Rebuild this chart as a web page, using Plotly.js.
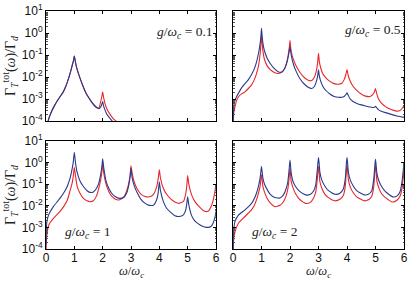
<!DOCTYPE html>
<html>
<head>
<meta charset="utf-8">
<script src="https://cdn.plot.ly/plotly-3.0.1.min.js"></script>
<style>html,body{margin:0;padding:0;background:#fff;}#plot{width:415px;height:282px;}</style>
</head>
<body>
<div id="plot"></div>
<script>
// ---- data (ω/ω_c, Γ_T^tot/Γ_d) ----
// panel g/ω_c = 0.1
const xA = [0.04,0.1,0.2,0.3,0.4,0.5,0.6,0.7,0.8,0.88,0.94,0.97,1.0,1.03,1.06,1.12,1.2,1.3,1.4,1.5,1.6,1.7,1.8,1.87,1.93,1.97,2.0,2.03,2.08,2.15,2.25,2.35,2.45,2.55];
const blueA = [6.3e-5,1.3e-4,2.8e-4,5.0e-4,8.3e-4,1.3e-3,2.0e-3,3.8e-3,8.9e-3,0.020,0.040,0.056,0.089,0.056,0.035,0.018,8.9e-3,4.0e-3,2.0e-3,1.2e-3,7.6e-4,5.2e-4,4.0e-4,3.6e-4,4.4e-4,5.8e-4,7.6e-4,5.0e-4,3.2e-4,2.0e-4,1.35e-4,9.5e-5,7.1e-5,5.0e-5];
const redA  = [6.3e-5,1.3e-4,2.8e-4,5.0e-4,8.3e-4,1.3e-3,2.0e-3,3.8e-3,8.9e-3,0.020,0.040,0.056,0.089,0.056,0.035,0.018,8.9e-3,4.0e-3,2.0e-3,1.2e-3,7.6e-4,5.2e-4,4.0e-4,4.0e-4,7.6e-4,1.3e-3,2.1e-3,1.26e-3,6.3e-4,3.5e-4,2.1e-4,1.4e-4,1.05e-4,7.9e-5];

// panel g/ω_c = 0.5
const xB = [0.0,0.03,0.07,0.13,0.2,0.3,0.42,0.54,0.65,0.75,0.83,0.9,0.95,0.98,1.0,1.02,1.05,1.1,1.2,1.3,1.45,1.6,1.72,1.82,1.9,1.95,1.98,2.0,2.02,2.05,2.12,2.2,2.35,2.5,2.64,2.76,2.86,2.92,2.97,3.0,3.03,3.08,3.15,3.25,3.4,3.55,3.7,3.82,3.9,3.96,4.0,4.04,4.1,4.2,4.35,4.5,4.65,4.8,4.9,4.96,5.0,5.04,5.1,5.2,5.35,5.55,5.75,5.86,5.95,6.0];
const blueB = [5.0e-5,5.0e-4,8.9e-4,1.3e-3,1.9e-3,3.2e-3,5.0e-3,7.6e-3,0.013,0.024,0.050,0.13,0.32,0.71,1.62,0.79,0.35,0.16,0.071,0.042,0.024,0.017,0.017,0.025,0.050,0.10,0.17,0.24,0.16,0.089,0.038,0.020,8.3e-3,4.8e-3,3.4e-3,3.0e-3,3.8e-3,6.0e-3,0.011,0.021,0.011,6.3e-3,3.8e-3,2.5e-3,1.7e-3,1.3e-3,1.2e-3,1.2e-3,1.3e-3,1.6e-3,1.9e-3,1.5e-3,1.05e-3,7.9e-4,6.3e-4,5.4e-4,4.8e-4,4.3e-4,4.1e-4,4.2e-4,4.6e-4,4.0e-4,3.3e-4,2.8e-4,2.4e-4,2.0e-4,1.7e-4,1.6e-4,1.5e-4,1.5e-4];
const redB  = [3.2e-5,2.5e-4,4.5e-4,8.9e-4,1.3e-3,1.7e-3,2.1e-3,3.0e-3,4.4e-3,7.6e-3,0.015,0.035,0.105,0.32,0.95,0.40,0.15,0.066,0.032,0.022,0.016,0.0145,0.017,0.026,0.056,0.13,0.25,0.45,0.25,0.13,0.063,0.035,0.016,9.5e-3,7.1e-3,6.9e-3,0.010,0.018,0.045,0.12,0.050,0.025,0.014,9.3e-3,6.3e-3,5.0e-3,4.7e-3,5.2e-3,7.6e-3,0.013,0.022,0.012,7.1e-3,4.0e-3,2.4e-3,1.7e-3,1.35e-3,1.3e-3,1.6e-3,2.1e-3,3.0e-3,1.8e-3,1.05e-3,6.6e-4,4.5e-4,3.3e-4,2.8e-4,3.0e-4,4.0e-4,5.4e-4];

// panel g/ω_c = 1
const xC = [0.0,0.01,0.03,0.1,0.26,0.49,0.65,0.75,0.85,0.92,0.96,1.0,1.04,1.1,1.2,1.32,1.45,1.55,1.67,1.78,1.86,1.93,1.97,2.0,2.04,2.12,2.22,2.32,2.45,2.6,2.75,2.85,2.92,2.97,3.0,3.04,3.12,3.22,3.35,3.5,3.65,3.8,3.9,3.96,4.0,4.04,4.14,4.25,4.4,4.55,4.7,4.85,4.93,4.97,5.0,5.04,5.14,5.25,5.44,5.6,5.72,5.82,5.9,5.96,6.0];
const blueC = [1.6e-4,6.3e-4,1.8e-3,4.0e-3,9.1e-3,0.022,0.045,0.079,0.19,0.50,1.0,3.0,1.0,0.35,0.14,0.078,0.050,0.042,0.044,0.063,0.11,0.28,0.63,1.5,0.56,0.14,0.063,0.038,0.026,0.022,0.025,0.040,0.089,0.22,0.54,0.20,0.079,0.040,0.020,0.013,0.0105,0.011,0.018,0.040,0.13,0.050,0.016,7.9e-3,5.0e-3,3.5e-3,3.2e-3,3.8e-3,6.3e-3,0.013,0.026,0.011,3.5e-3,2.0e-3,1.3e-3,1.05e-3,1.0e-3,1.1e-3,1.6e-3,2.8e-3,5.4e-3];
const redC  = [3.2e-5,1.6e-4,4.5e-4,1.3e-3,2.6e-3,5.4e-3,0.0105,0.018,0.050,0.11,0.22,0.60,0.25,0.079,0.038,0.022,0.017,0.0155,0.017,0.028,0.063,0.16,0.35,0.83,0.32,0.10,0.045,0.028,0.020,0.019,0.026,0.050,0.11,0.28,0.72,0.32,0.12,0.060,0.035,0.027,0.026,0.035,0.071,0.18,0.46,0.19,0.065,0.035,0.021,0.015,0.013,0.016,0.035,0.089,0.25,0.10,0.032,0.016,8.3e-3,5.6e-3,5.6e-3,8.9e-3,0.018,0.045,0.10];

// panel g/ω_c = 2
const xD = [0.0,0.02,0.07,0.19,0.42,0.65,0.75,0.83,0.9,0.95,0.98,1.0,1.02,1.05,1.1,1.2,1.3,1.47,1.65,1.77,1.86,1.92,1.96,2.0,2.04,2.1,2.2,2.35,2.55,2.7,2.82,2.9,2.95,2.98,3.0,3.02,3.05,3.12,3.22,3.35,3.58,3.75,3.87,3.94,3.98,4.0,4.02,4.05,4.12,4.22,4.34,4.6,4.75,4.87,4.94,4.98,5.0,5.02,5.05,5.12,5.22,5.35,5.6,5.75,5.86,5.93,5.97,6.0];
const blueD = [5.0e-5,6.3e-4,1.9e-3,3.7e-3,6.5e-3,0.013,0.022,0.040,0.089,0.19,0.40,0.65,0.40,0.19,0.105,0.056,0.035,0.024,0.023,0.032,0.060,0.12,0.35,1.32,0.35,0.14,0.076,0.045,0.032,0.033,0.047,0.089,0.35,1.0,1.7,1.0,0.35,0.15,0.083,0.050,0.034,0.038,0.060,0.18,1.0,1.7,1.0,0.35,0.15,0.083,0.050,0.032,0.034,0.050,0.18,0.83,1.41,0.83,0.32,0.14,0.076,0.045,0.026,0.028,0.045,0.13,0.40,0.93];
const redD  = [3.2e-5,2.5e-4,6.3e-4,1.55e-3,3.2e-3,6.5e-3,0.0105,0.020,0.042,0.079,0.17,0.27,0.17,0.079,0.045,0.022,0.014,9.1e-3,0.0105,0.0155,0.028,0.056,0.14,0.54,0.14,0.071,0.035,0.019,0.013,0.014,0.022,0.042,0.13,0.38,0.65,0.38,0.13,0.063,0.035,0.024,0.017,0.020,0.030,0.079,0.45,0.78,0.45,0.16,0.071,0.040,0.026,0.017,0.019,0.028,0.079,0.42,0.72,0.42,0.14,0.066,0.035,0.024,0.015,0.018,0.028,0.063,0.18,0.54];

const panelLabels = ['0.1','0.5','1','2'];
const xTickVals = [0,1,2,3,4,5,6];
const yTickVals = [1e-4,1e-3,1e-2,1e-1,1,10];
const yTickText = ['10<sup>-4</sup>','10<sup>-3</sup>','10<sup>-2</sup>','10<sup>-1</sup>','10<sup>0</sup>','10<sup>1</sup>'];
const xTitle = '<i>ω</i>/<i>ω</i><sub><i>c</i></sub>';
const yTitle = 'Γ<sub><i>T</i></sub><sup>tot</sup>(<i>ω</i>)/Γ<sub><i>d</i></sub>';

const RED = '#e8262b', BLUE = '#283a8c';
const panels = [[xA,blueA,redA],[xB,blueB,redB],[xC,blueC,redC],[xD,blueD,redD]];
const traces = [];
panels.forEach((p,i)=>{
  const ax = i===0 ? '' : String(i+1);
  traces.push({x:p[0], y:p[2], type:'scatter', mode:'lines', line:{color:RED,width:1.1,shape:'spline',smoothing:0.5}, xaxis:'x'+ax, yaxis:'y'+ax, showlegend:false, hoverinfo:'skip'});
  traces.push({x:p[0], y:p[1], type:'scatter', mode:'lines', line:{color:BLUE,width:1.1,shape:'spline',smoothing:0.5}, xaxis:'x'+ax, yaxis:'y'+ax, showlegend:false, hoverinfo:'skip'});
});

const W = 415, H = 282;
const colX = [[46/W,216/W],[233/W,404/W]];
const rowY = [[1-121/H,1-11/H],[1-249/H,1-141/H]];
const tickFont = {family:'Liberation Sans, Arial, sans-serif', size:12, color:'#111'};
const serif = 'Liberation Serif, Times New Roman, serif';

function xax(col,row){
  return {domain:colX[col], range:[0,6], tickmode:'array', tickvals:xTickVals,
    ticks:'inside', ticklen:3, tickwidth:1, tickcolor:'#000', showline:true, linecolor:'#000', linewidth:1,
    mirror:'ticks', showgrid:false, zeroline:false, showticklabels: row===1, tickfont:tickFont, ticklabelstandoff:-2};
}
function yax(col,row){
  return {domain:rowY[row], type:'log', range:[-4,1], tickmode:'array', tickvals:yTickVals, ticktext:yTickText,
    ticks:'inside', ticklen:3, tickwidth:1, tickcolor:'#000', showline:true, linecolor:'#000', linewidth:1,
    mirror:'ticks', showgrid:false, zeroline:false, showticklabels: col===0, tickfont:tickFont,
    minor:{ticks:'inside', ticklen:1.5, tickcolor:'#555', dtick:'D1', showgrid:false},
    title: col===0 ? {text:yTitle, font:{family:serif,size:14,color:'#222'}, standoff:2} : {text:''}};
}
const annFont = {family:serif,size:13.5,color:'#222'};
const titleFont = {family:serif,size:12.5,color:'#222'};
const layout = {
  width:W, height:H, margin:{l:0,r:0,t:0,b:0}, paper_bgcolor:'#fff', plot_bgcolor:'#fff',
  xaxis: Object.assign(xax(0,0),{anchor:'y'}), yaxis: Object.assign(yax(0,0),{anchor:'x'}),
  xaxis2: Object.assign(xax(1,0),{anchor:'y2'}), yaxis2: Object.assign(yax(1,0),{anchor:'x2'}),
  xaxis3: Object.assign(xax(0,1),{anchor:'y3'}), yaxis3: Object.assign(yax(0,1),{anchor:'x3'}),
  xaxis4: Object.assign(xax(1,1),{anchor:'y4'}), yaxis4: Object.assign(yax(1,1),{anchor:'x4'}),
  annotations: [
    {xref:'x domain', yref:'y domain', x:0.995, y:0.9, xanchor:'right', yanchor:'top', showarrow:false,
     text:'<i>g</i>/<i>ω</i><sub><i>c</i></sub> = '+panelLabels[0], font:annFont},
    {xref:'x2 domain', yref:'y2 domain', x:0.995, y:0.92, xanchor:'right', yanchor:'top', showarrow:false,
     text:'<i>g</i>/<i>ω</i><sub><i>c</i></sub> = '+panelLabels[1], font:annFont},
    {xref:'x3 domain', yref:'y3 domain', x:0.1, y:0.06, xanchor:'left', yanchor:'bottom', showarrow:false,
     text:'<i>g</i>/<i>ω</i><sub><i>c</i></sub> = '+panelLabels[2], font:annFont},
    {xref:'x4 domain', yref:'y4 domain', x:0.1, y:0.06, xanchor:'left', yanchor:'bottom', showarrow:false,
     text:'<i>g</i>/<i>ω</i><sub><i>c</i></sub> = '+panelLabels[3], font:annFont},
    {xref:'paper', yref:'paper', x:(colX[0][0]+colX[0][1])/2, y:1/H, xanchor:'center', yanchor:'bottom', showarrow:false,
     text:xTitle, font:titleFont, borderpad:0},
    {xref:'paper', yref:'paper', x:(colX[1][0]+colX[1][1])/2, y:1/H, xanchor:'center', yanchor:'bottom', showarrow:false,
     text:xTitle, font:titleFont, borderpad:0}
  ]
};
Plotly.newPlot('plot', traces, layout, {staticPlot:true, displayModeBar:false});
</script>
</body>
</html>
